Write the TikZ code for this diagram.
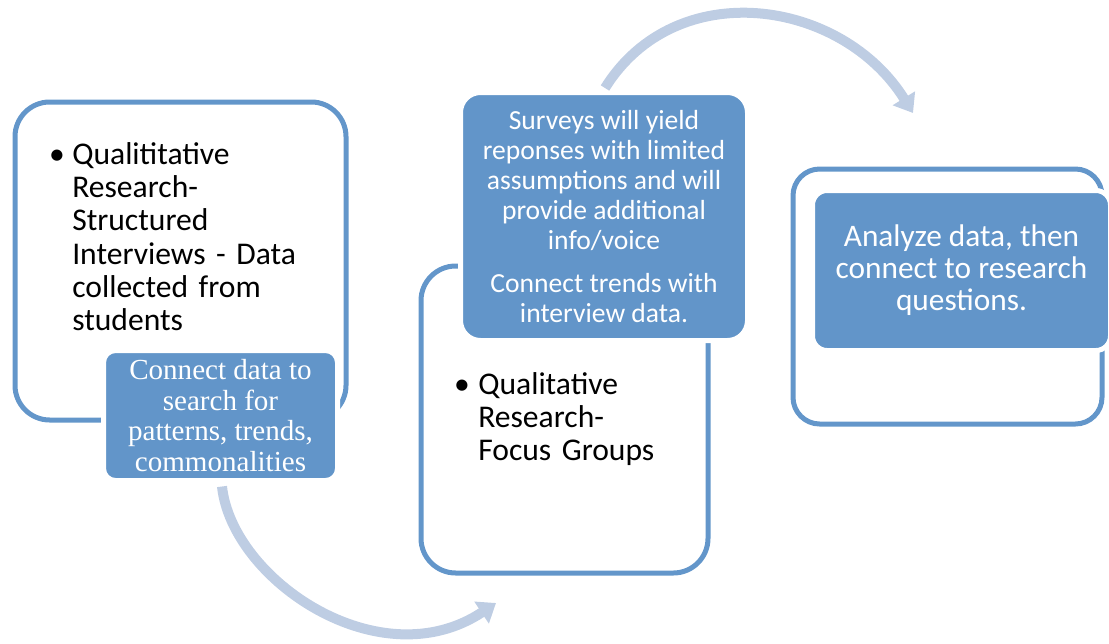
\documentclass[tikz,border=0pt]{standalone}
\usepackage{fontspec}
\setmainfont{Carlito}
\newfontfamily\serifnote{Liberation Serif}
\usetikzlibrary{arrows.meta,fit}
\definecolor{frameblue}{RGB}{99,150,202}
\definecolor{fillblue}{RGB}{98,149,201}
\definecolor{flowblue}{RGB}{190,205,227}
\tikzset{
  frame/.style={draw=frameblue, line width=3.75pt, inner sep=0pt, outer sep=0pt},
  note/.style={fill=fillblue, draw=white, line width=3.75pt, inner sep=0pt,
    outer sep=0pt, text=white, align=center},
  flow/.style={draw=flowblue, line width=7.5pt,
    -{Triangle[width=19pt,length=13pt]}},
  body/.style={font=\fontsize{23.7}{25}\selectfont, inner sep=0pt, text=black},
}
\begin{document}
\begin{tikzpicture}[x=0.75pt, y=-0.75pt]
\useasboundingbox (0,0) rectangle (1109,643);

% outlined stage boxes
\node[frame, rounded corners=26pt, fit={(15,102) (346,420)}] (box1) {};
\node[frame, rounded corners=26pt, fit={(421,266) (708,573)}] (box2) {};
\node[frame, rounded corners=20pt, fit={(793,169) (1102,424)}] (box3) {};

% bullet text inside the outlined boxes
\node[body, anchor=base] (dot1) at (57,164) {•};
\node[body, anchor=base west, text width=260pt, align=left] (txt1) at (72,164)
  {Qualititative\\Research-\\Structured\\Interviews - Data\\collected from\\students};
\node[body, anchor=base] (dot2) at (462,394) {•};
\node[body, anchor=base west, text width=200pt, align=left] (txt2) at (478,394)
  {Qualitative\\Research-\\Focus Groups};

% filled notes
\node[note, rounded corners=9pt, minimum width=175.5pt, minimum height=97.5pt,
  font=\serifnote\fontsize{21.8}{23}\selectfont] (note1) at (220.5,415.5)
  {Connect data to\\search for\\patterns, trends,\\commonalities};
\node[note, rounded corners=15pt, minimum width=215.25pt, minimum height=186pt,
  font=\fontsize{20.7}{22.5}\selectfont] (note2) at (604,216.5)
  {Surveys will yield\\reponses with limited\\assumptions and will\\provide additional\\info/voice\\[10pt]Connect trends with\\interview data.};
\node[note, rounded corners=11pt, minimum width=223.5pt, minimum height=120pt,
  font=\fontsize{23.5}{24}\selectfont] (note3) at (961.5,270.5)
  {Analyze data, then\\connect to research\\questions.};

% curved connectors between stages
\coordinate (in2) at (496,603);
\coordinate (out2) at (605,88);
\coordinate (in3) at (913,113);
\draw[flow] (note1.south -| 222,0) ++(0,6) .. controls (232,580) and (380,680) .. (in2);
\draw[flow] (out2) .. controls (676,-26) and (842,-1) .. (in3);
\end{tikzpicture}
\end{document}
